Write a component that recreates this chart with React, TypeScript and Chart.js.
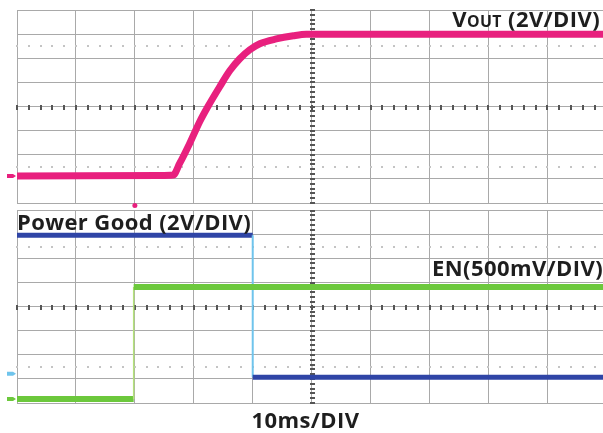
import React, { useEffect, useRef } from 'react';
import { Chart, registerables } from 'chart.js';
Chart.register(...registerables);

// Horizontal axis: time in divisions (10 ms/DIV). Vertical axis: divisions from screen centre.
const voutTime = [0, 2.42, 2.65, 2.76, 2.93, 3.1, 3.24, 3.44, 3.61, 3.78, 3.95, 4.12, 4.4, 4.69, 4.91, 6.5, 10];
const voutLevel = [-2.88, -2.86, -2.84, -2.36, -1.53, -0.63, 0, 0.82, 1.48, 1.98, 2.35, 2.6, 2.8, 2.93, 2.99, 3.0, 3.0];
const pgTime = [0, 4.0, 4.0, 10];
const pgLevel = [2.97, 2.97, -2.93, -2.93];
const enTime = [0, 1.98, 1.98, 10];
const enLevel = [-3.83, -3.83, 0.82, 0.82];
const triggerTime = 2.0;

const xDivisions = 10;
const yDivisions = [-4, 4];

const FONT = "'Open Sans', 'DejaVu Sans', sans-serif";
const GRID = '#a9a9a9';

function pts(t: number[], v: number[]) {
  return t.map((x, i) => ({ x, y: v[i] }));
}

type Marker = { level: number; color: string };

function makeScopePlugin(markers: Marker[], trigger: string | null) {
  return {
    id: 'scopeMarks',
    beforeDatasetsDraw(chart: any) {
      const { ctx, chartArea, scales } = chart;
      const x = scales.x;
      const y = scales.y;
      ctx.save();
      const cx = x.getPixelForValue(xDivisions / 2);
      const cy = y.getPixelForValue(0);
      ctx.fillStyle = '#555';
      for (let i = 0; i <= 50; i++) {
        const px = x.getPixelForValue(i * 0.2);
        if (px > chartArea.right) break;
        ctx.fillRect(Math.round(px) - 1, Math.round(cy) - 2, 2, 5);
      }
      for (let i = 0; i <= 40; i++) {
        const py = y.getPixelForValue(yDivisions[0] + i * 0.2);
        ctx.fillRect(Math.round(cx) - 2, Math.round(py) - 1, 5, 2);
      }
      ctx.fillStyle = '#c4c4c4';
      [2.5, -2.5].forEach((lv) => {
        const py = y.getPixelForValue(lv);
        for (let i = 0; i <= 50; i++) {
          const px = x.getPixelForValue(i * 0.2);
          if (px > chartArea.right) break;
          ctx.fillRect(Math.round(px) - 1, Math.round(py) - 1, 2, 2);
        }
      });
      ctx.restore();
    },
    afterDatasetsDraw(chart: any) {
      const { ctx, chartArea, scales } = chart;
      ctx.save();
      markers.forEach((m) => {
        const py = scales.y.getPixelForValue(m.level);
        ctx.fillStyle = m.color;
        ctx.beginPath();
        ctx.moveTo(7, py - 2);
        ctx.lineTo(13, py - 2);
        ctx.lineTo(16, py);
        ctx.lineTo(13, py + 2);
        ctx.lineTo(7, py + 2);
        ctx.closePath();
        ctx.fill();
      });
      if (trigger) {
        const px = scales.x.getPixelForValue(triggerTime);
        ctx.fillStyle = trigger;
        ctx.beginPath();
        ctx.arc(px, chartArea.bottom + 2.5, 2.5, 0, Math.PI * 2);
        ctx.fill();
      }
      ctx.restore();
    },
  };
}

function ScopePanel(props: {
  top: number;
  height: number;
  padTop: number;
  padBottom: number;
  datasets: any[];
  markers: Marker[];
  trigger: string | null;
}) {
  const ref = useRef<HTMLCanvasElement>(null);
  useEffect(() => {
    if (!ref.current) return;
    const gridOpts = { color: GRID, lineWidth: 1, drawTicks: false };
    const chart = new Chart(ref.current, {
      type: 'line',
      data: { datasets: props.datasets },
      options: {
        animation: false,
        responsive: false,
        maintainAspectRatio: false,
        events: [],
        layout: { padding: { left: 17, top: props.padTop, right: 0, bottom: props.padBottom } },
        plugins: { legend: { display: false }, tooltip: { enabled: false } },
        elements: { point: { radius: 0 }, line: { tension: 0 } },
        scales: {
          x: {
            type: 'linear',
            min: 0,
            max: 9.944,
            ticks: { display: false, stepSize: 1, includeBounds: false },
            grid: gridOpts,
            border: { display: true, color: GRID, width: 1 },
          },
          y: {
            type: 'linear',
            min: yDivisions[0],
            max: yDivisions[1],
            ticks: { display: false, stepSize: 1 },
            grid: gridOpts,
            border: { display: true, color: GRID, width: 1 },
          },
        },
      } as any,
      plugins: [makeScopePlugin(props.markers, props.trigger)],
    });
    return () => chart.destroy();
  }, []);
  return (
    <canvas
      ref={ref}
      width={603}
      height={props.height}
      style={{ position: 'absolute', left: 0, top: props.top, width: 603, height: props.height }}
    />
  );
}

const edgeSeg = (main: string, edge: string, mainW: number, edgeW: number) => ({
  borderColor: (c: any) => (c.p0.parsed.x === c.p1.parsed.x ? edge : main),
  borderWidth: (c: any) => (c.p0.parsed.x === c.p1.parsed.x ? edgeW : mainW),
});

const FS = 22;
const BASE = 19.5; // baseline offset from top for Open Sans at line-height = font size
const textBase: React.CSSProperties = {
  position: 'absolute',
  fontFamily: FONT,
  fontWeight: 700,
  fontSize: FS,
  lineHeight: `${FS}px`,
  letterSpacing: '0.4px',
  color: '#1e1e1e',
  whiteSpace: 'nowrap',
};

export default function App() {
  const topSets = [
    {
      data: pts(voutTime, voutLevel),
      borderColor: '#e8207e',
      borderWidth: 7,
      cubicInterpolationMode: 'monotone',
    },
  ];
  const bottomSets = [
    {
      data: pts(enTime, enLevel),
      borderColor: '#6cc83c',
      borderWidth: 6,
      segment: edgeSeg('#6cc83c', '#b4e27a', 6, 1.5),
    },
    {
      data: pts(pgTime, pgLevel),
      borderColor: '#2f45a6',
      borderWidth: 5,
      segment: edgeSeg('#2f45a6', '#6fc4ec', 5, 2),
    },
  ];
  return (
    <div style={{ position: 'absolute', left: 0, top: 0, width: 603, height: 433, background: '#fff', overflow: 'hidden' }}>
      <ScopePanel top={0} height={208} padTop={10} padBottom={5} datasets={topSets} markers={[{ level: voutLevel[0], color: '#e8207e' }]} trigger="#e8207e" />
      <ScopePanel
        top={208}
        height={225}
        padTop={2.5}
        padBottom={30}
        datasets={bottomSets}
        markers={[
          { level: -2.78, color: '#6fc4ec' },
          { level: enLevel[0], color: '#6cc83c' },
        ]}
        trigger={null}
      />
      <div style={{ ...textBase, right: 3, top: 26.5 - BASE }}>
        V<span style={{ fontSize: '0.72em' }}>OUT</span> (2V/DIV)
      </div>
      <div style={{ ...textBase, left: 17, top: 229.5 - BASE }}>Power Good (2V/DIV)</div>
      <div style={{ ...textBase, right: 0, top: 275.7 - BASE }}>EN(500mV/DIV)</div>
      <div style={{ ...textBase, left: 0, width: 611, textAlign: 'center', top: 427.3 - BASE }}>10ms/DIV</div>
    </div>
  );
}
